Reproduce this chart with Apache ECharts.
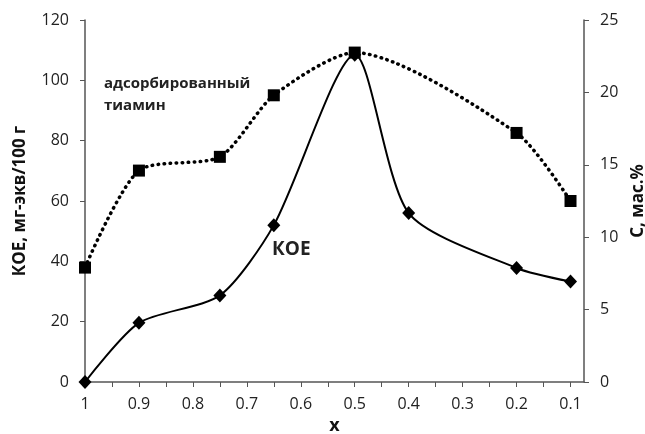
<!DOCTYPE html>
<html>
<head>
    <meta charset="utf-8">
    <title>KOE</title>
    <script src="https://cdn.jsdelivr.net/npm/echarts@6/dist/echarts.min.js"></script>
</head>
<body style="margin:0;background:#fff;">
    <div id="main" style="width: 645px;height:434px;"></div>
    <script type="text/javascript">
        // data
        var xValues = [1, 0.9, 0.75, 0.65, 0.5, 0.4, 0.2, 0.1];
        var koe = [0, 19.6, 28.7, 52.0, 108.5, 56.0, 37.8, 33.3];          // left axis
        var thiaminX = [1, 0.9, 0.75, 0.65, 0.5, 0.2, 0.1];
        var thiamin = [7.9, 14.6, 15.55, 19.8, 22.75, 17.2, 12.5];          // right axis
        var xLabels = [1, 0.9, 0.8, 0.7, 0.6, 0.5, 0.4, 0.3, 0.2, 0.1];
        var xTicks = [1, 0.95, 0.9, 0.85, 0.8, 0.75, 0.7, 0.65, 0.6, 0.55, 0.5, 0.45, 0.4, 0.35, 0.3, 0.25, 0.2, 0.15, 0.1];

        function pairs(xs, ys) {
            return xs.map(function (x, i) { return [x, ys[i]]; });
        }

        var myChart = echarts.init(document.getElementById('main'));
        var font = 'Open Sans';
        var axisLine = { show: true, lineStyle: { color: '#555', width: 1.5 } };

        option = {
            animation: false,
            grid: { left: 85, right: 61, top: 20, bottom: 52, outerBoundsMode: 'none' },
            xAxis: {
                type: 'value',
                inverse: true,
                min: 0.075,
                max: 1,
                name: 'x',
                nameLocation: 'middle',
                nameGap: 34,
                nameTextStyle: { fontFamily: font, fontWeight: 'bold', fontSize: 18, color: '#111' },
                axisLine: axisLine,
                axisTick: { show: true, customValues: xTicks, length: 5, lineStyle: { color: '#555' } },
                axisLabel: { customValues: xLabels, fontFamily: font, fontSize: 16, color: '#222', margin: 14 },
                splitLine: { show: false }
            },
            yAxis: [{
                type: 'value',
                min: 0, max: 120, interval: 20,
                name: 'КОЕ, мг-экв/100 г',
                nameLocation: 'middle',
                nameGap: 56,
                nameTextStyle: { fontFamily: font, fontWeight: 'bold', fontSize: 17, color: '#111' },
                axisLine: axisLine,
                axisTick: { show: true, length: 5, lineStyle: { color: '#555' } },
                axisLabel: { fontFamily: font, fontSize: 16, color: '#222', margin: 16 },
                splitLine: { show: false }
            }, {
                type: 'value',
                position: 'right',
                min: 0, max: 25, interval: 5,
                name: 'С, мас.%',
                nameLocation: 'middle',
                nameRotate: 90,
                nameGap: 46,
                nameTextStyle: { fontFamily: font, fontWeight: 'bold', fontSize: 17, color: '#111' },
                axisLine: axisLine,
                axisTick: { show: true, length: 5, lineStyle: { color: '#555' } },
                axisLabel: { fontFamily: font, fontSize: 16, color: '#222', margin: 16 },
                splitLine: { show: false }
            }],
            graphic: [{
                type: 'text', left: 104, top: 73,
                style: { text: 'адсорбированный\nтиамин', fontFamily: font, fontWeight: 'bold', fontSize: 15, lineHeight: 22, fill: '#222' }
            }, {
                type: 'text', left: 272, top: 240,
                style: { text: 'КОЕ', fontFamily: font, fontWeight: 'bold', fontSize: 19, fill: '#222' }
            }],
            series: [{
                name: 'адсорбированный тиамин',
                type: 'line',
                yAxisIndex: 1,
                smooth: 0.25,
                data: pairs(thiaminX, thiamin),
                symbol: 'rect',
                symbolSize: 12,
                itemStyle: { color: '#000' },
                lineStyle: { color: '#000', width: 3.5, type: [0.5, 5.5], cap: 'round' },
                z: 3
            }, {
                name: 'КОЕ',
                type: 'line',
                yAxisIndex: 0,
                smooth: 0.25,
                data: pairs(xValues, koe),
                symbol: 'diamond',
                symbolSize: [13, 14],
                itemStyle: { color: '#000' },
                lineStyle: { color: '#000', width: 2 },
                z: 2
            }]
        };

        myChart.setOption(option);
    </script>
</body>
</html>
